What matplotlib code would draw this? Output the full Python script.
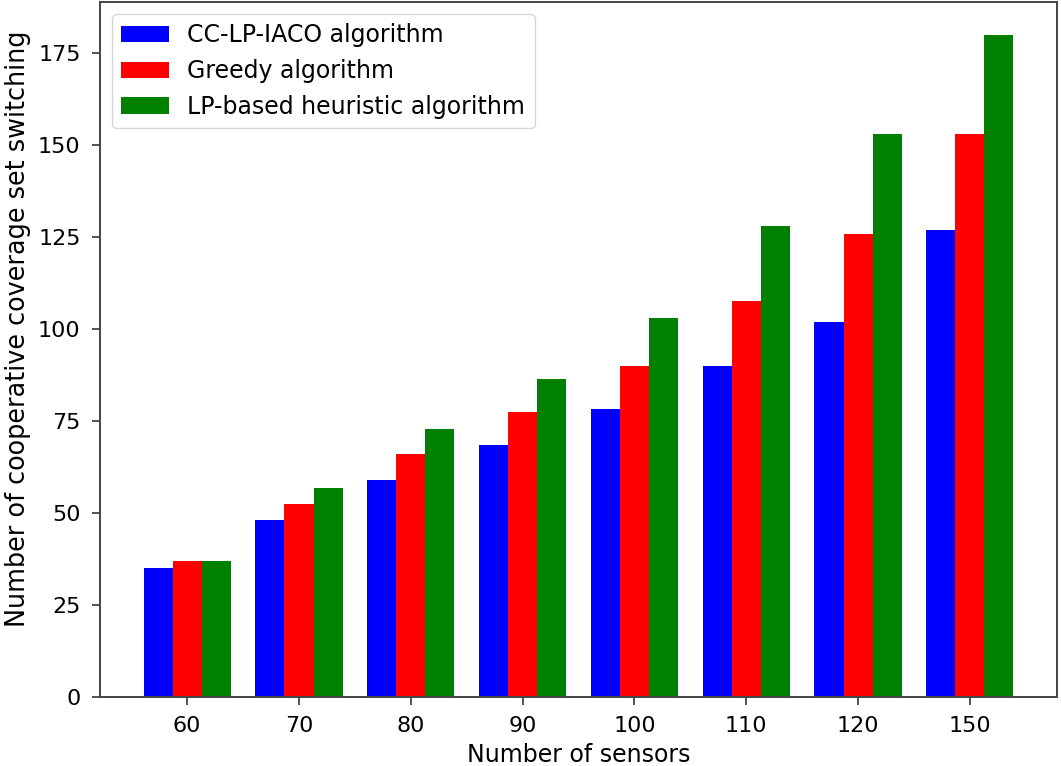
import matplotlib
matplotlib.use("Agg")
import matplotlib.pyplot as plt
import numpy as np

sensors = ["60", "70", "80", "90", "100", "110", "120", "150"]
cc_lp_iaco = [35, 48, 59, 68.4, 78.3, 90, 102, 127]
greedy = [37, 52.6, 66, 77.4, 90, 107.8, 126, 153]
lp_heuristic = [37, 56.7, 73, 86.6, 103, 128, 153, 180]

series = [
    ("CC-LP-IACO algorithm", cc_lp_iaco, "blue"),
    ("Greedy algorithm", greedy, "red"),
    ("LP-based heuristic algorithm", lp_heuristic, "green"),
]

fig = plt.figure(figsize=(10.61, 7.66), dpi=100)
ax = fig.add_axes([0.0943, 0.0901, 0.9019, 0.9073])

x = np.arange(len(sensors))
w = 0.26
for i, (name, vals, col) in enumerate(series):
    ax.bar(x + (i - 1) * w, vals, w, color=col, label=name)

ax.set_xticks(x)
ax.set_xticklabels(sensors)
ax.tick_params(labelsize=16, length=6, width=1.3, pad=8, color="#444444")
for s in ax.spines.values():
    s.set_linewidth(1.4)
    s.set_color("#444444")
ax.set_xlabel("Number of sensors", fontsize=17, labelpad=5)
ax.set_ylabel("Number of cooperative coverage set switching", fontsize=18.4)
ax.yaxis.set_label_coords(-0.072, 0.53)
ax.legend(loc="upper left", fontsize=17, borderaxespad=0.5)

fig.savefig("out.png", dpi=100)
